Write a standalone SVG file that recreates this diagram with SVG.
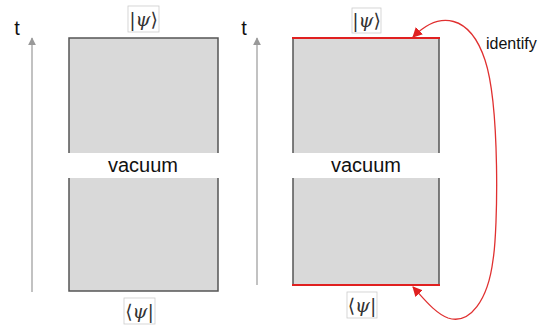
<svg xmlns="http://www.w3.org/2000/svg" width="543" height="325" viewBox="0 0 543 325">
<style>
.box{fill:#d9d9d9;stroke:#555;stroke-width:1.5}
.band{fill:#fff}
.vac{font-family:"Liberation Sans",Arial,sans-serif;font-size:20px;text-anchor:middle;fill:#111}
.t{font-family:"Liberation Sans",Arial,sans-serif;font-size:20px;text-anchor:middle;fill:#111}
.lbl{fill:#fff;stroke:#ccc;stroke-width:0.8}
.math{font-family:"DejaVu Serif","Liberation Serif",serif;font-size:19px;text-anchor:middle;fill:#333}
.axis{stroke:#999;stroke-width:1.2;fill:none}
.red{stroke:#e02020;stroke-width:2.2}
.curve{stroke:#e03030;stroke-width:1.3;fill:none}
</style>
<defs>
<marker id="ga" viewBox="0 0 10 10" refX="9" refY="5" markerWidth="8" markerHeight="8" markerUnits="userSpaceOnUse" orient="auto"><path d="M0,0 L10,5 L0,10 z" fill="#999"/></marker>
<marker id="ra" viewBox="0 0 10 10" refX="9" refY="5" markerWidth="10" markerHeight="10" markerUnits="userSpaceOnUse" orient="auto-start-reverse"><path d="M0,0 L10,5 L0,10 z" fill="#e02020"/></marker>
</defs>
<g id="axis-left">
<line class="axis" x1="32" y1="292" x2="32" y2="38" marker-end="url(#ga)"/>
<text class="t" x="17" y="35">t</text>
</g>
<g id="axis-right">
<line class="axis" x1="257" y1="285" x2="257" y2="38" marker-end="url(#ga)"/>
<text class="t" x="244" y="35">t</text>
</g>
<g id="left-block">
<rect class="box" x="69" y="38" width="149" height="253"/>
<rect class="band" x="68" y="153" width="151" height="25"/>
<text class="vac" x="143" y="172">vacuum</text>
</g>
<g id="right-block">
<rect class="box" x="293" y="38" width="146" height="247"/>
<rect class="band" x="292" y="153" width="148" height="25"/>
<text class="vac" x="366" y="172">vacuum</text>
<line class="red" x1="292" y1="38" x2="440" y2="38"/>
<line class="red" x1="292" y1="285" x2="440" y2="285"/>
</g>
<g id="ket-left">
<rect class="lbl" x="128" y="6" width="31" height="26"/>
<text class="math" x="143.5" y="26">|<tspan font-style="italic">ψ</tspan>⟩</text>
</g>
<g id="bra-left">
<rect class="lbl" x="124" y="298" width="31" height="26"/>
<text class="math" x="139.5" y="318">⟨<tspan font-style="italic">ψ</tspan>|</text>
</g>
<g id="ket-right">
<rect class="lbl" x="352" y="8" width="29" height="25"/>
<text class="math" x="366.5" y="27">|<tspan font-style="italic">ψ</tspan>⟩</text>
</g>
<g id="bra-right">
<rect class="lbl" x="347" y="292" width="30" height="26"/>
<text class="math" x="362" y="312">⟨<tspan font-style="italic">ψ</tspan>|</text>
</g>
<g id="connectors">
<path class="curve" d="M413,287 C425,300 435,313 448,318 C470,325 488,300 493,260 C498,230 500,105 485,60 C470,15 440,10 413,37" marker-start="url(#ra)" marker-end="url(#ra)"/>
<text x="486" y="49" font-family="'Liberation Sans',Arial,sans-serif" font-size="16" fill="#111">identify</text>
</g>
</svg>
